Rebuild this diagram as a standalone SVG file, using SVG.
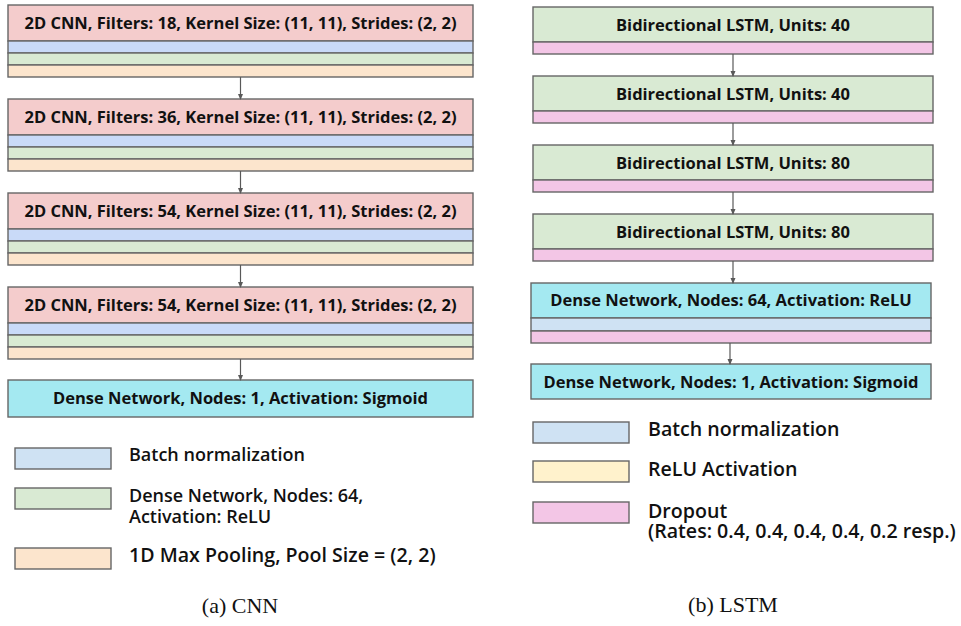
<svg xmlns="http://www.w3.org/2000/svg" width="961" height="626" viewBox="0 0 961 626">
<defs>
<style>
.box{stroke:#666;stroke-width:1.4}
.red{fill:#f4cccc}.blue{fill:#c9daf8}.lblue{fill:#cfe2f3}.green{fill:#d9ead3}.orange{fill:#fce5cd}.cyan{fill:#a4e9f1}.pink{fill:#f3c6e6}.yellow{fill:#fff2cc}
.t{font-family:"Open Sans","Noto Sans",sans-serif;font-weight:700;font-size:16.5px;fill:#111;text-anchor:middle}
.lg{font-family:"Open Sans","Noto Sans",sans-serif;font-weight:600;font-size:18px;fill:#111}
.lg2{font-family:"Open Sans","Noto Sans",sans-serif;font-weight:600;font-size:19.6px;fill:#111}
.cap{font-family:"Liberation Serif",serif;font-size:22px;fill:#111;text-anchor:middle}
.conn{stroke:#595959;stroke-width:1.2;fill:none;marker-end:url(#ah)}
</style>
<marker id="ah" viewBox="0 0 6 6" refX="5" refY="3" markerWidth="6" markerHeight="6" markerUnits="userSpaceOnUse" orient="auto">
<path d="M0,0.5 L6,3 L0,5.5 z" fill="#595959"/>
</marker>
</defs>
<rect width="961" height="626" fill="#fff"/>

<g id="cnn1">
<rect class="box red" x="8" y="5" width="465" height="36"/>
<rect class="box blue" x="8" y="41" width="465" height="12"/>
<rect class="box green" x="8" y="53" width="465" height="12"/>
<rect class="box orange" x="8" y="65" width="465" height="12"/>
<text class="t" x="240.5" y="29">2D CNN, Filters: 18, Kernel Size: (11, 11), Strides: (2, 2)</text>
</g>
<g id="cnn2">
<rect class="box red" x="8" y="99" width="465" height="36"/>
<rect class="box blue" x="8" y="135" width="465" height="12"/>
<rect class="box green" x="8" y="147" width="465" height="12"/>
<rect class="box orange" x="8" y="159" width="465" height="12"/>
<text class="t" x="240.5" y="123">2D CNN, Filters: 36, Kernel Size: (11, 11), Strides: (2, 2)</text>
</g>
<g id="cnn3">
<rect class="box red" x="8" y="193" width="465" height="36"/>
<rect class="box blue" x="8" y="229" width="465" height="12"/>
<rect class="box green" x="8" y="241" width="465" height="12"/>
<rect class="box orange" x="8" y="253" width="465" height="12"/>
<text class="t" x="240.5" y="217">2D CNN, Filters: 54, Kernel Size: (11, 11), Strides: (2, 2)</text>
</g>
<g id="cnn4">
<rect class="box red" x="8" y="287" width="465" height="36"/>
<rect class="box blue" x="8" y="323" width="465" height="12"/>
<rect class="box green" x="8" y="335" width="465" height="12"/>
<rect class="box orange" x="8" y="347" width="465" height="12"/>
<text class="t" x="240.5" y="311">2D CNN, Filters: 54, Kernel Size: (11, 11), Strides: (2, 2)</text>
</g>
<g id="cnn_dense">
<rect class="box cyan" x="8" y="380" width="465" height="37"/>
<text class="t" x="240.5" y="404">Dense Network, Nodes: 1, Activation: Sigmoid</text>
</g>

<g id="lstm1">
<rect class="box green" x="533" y="7" width="400" height="35"/>
<rect class="box pink" x="533" y="42" width="400" height="12"/>
<text class="t" x="733" y="31">Bidirectional LSTM, Units: 40</text>
</g>
<g id="lstm2">
<rect class="box green" x="533" y="76" width="400" height="35"/>
<rect class="box pink" x="533" y="111" width="400" height="12"/>
<text class="t" x="733" y="100">Bidirectional LSTM, Units: 40</text>
</g>
<g id="lstm3">
<rect class="box green" x="533" y="145" width="400" height="35"/>
<rect class="box pink" x="533" y="180" width="400" height="12"/>
<text class="t" x="733" y="169">Bidirectional LSTM, Units: 80</text>
</g>
<g id="lstm4">
<rect class="box green" x="533" y="214" width="400" height="35"/>
<rect class="box pink" x="533" y="249" width="400" height="12"/>
<text class="t" x="733" y="238">Bidirectional LSTM, Units: 80</text>
</g>
<g id="lstm_dense64">
<rect class="box cyan" x="531" y="283" width="400" height="35"/>
<rect class="box lblue" x="531" y="318" width="400" height="13"/>
<rect class="box pink" x="531" y="331" width="400" height="12"/>
<text class="t" x="731" y="306">Dense Network, Nodes: 64, Activation: ReLU</text>
</g>
<g id="lstm_dense1">
<rect class="box cyan" x="531" y="364" width="400" height="35"/>
<text class="t" x="731" y="388">Dense Network, Nodes: 1, Activation: Sigmoid</text>
</g>

<g id="connectors">
<line class="conn" x1="240.5" y1="77" x2="240.5" y2="99"/>
<line class="conn" x1="240.5" y1="171" x2="240.5" y2="193"/>
<line class="conn" x1="240.5" y1="265" x2="240.5" y2="287"/>
<line class="conn" x1="240.5" y1="359" x2="240.5" y2="380"/>
<line class="conn" x1="733" y1="54" x2="733" y2="76"/>
<line class="conn" x1="733" y1="123" x2="733" y2="145"/>
<line class="conn" x1="733" y1="192" x2="733" y2="214"/>
<line class="conn" x1="733" y1="261" x2="733" y2="283"/>
<line class="conn" x1="730" y1="343" x2="730" y2="364"/>
</g>

<g id="legend_cnn">
<rect class="box lblue" x="15" y="448" width="96" height="21"/>
<text class="lg" x="129" y="461">Batch normalization</text>
<rect class="box green" x="15" y="488" width="96" height="21"/>
<text class="lg" x="129" y="502">Dense Network, Nodes: 64,</text>
<text class="lg" x="129" y="523">Activation: ReLU</text>
<rect class="box orange" x="15" y="548" width="96" height="21"/>
<text class="lg2" x="129" y="562">1D Max Pooling, Pool Size = (2, 2)</text>
</g>
<g id="legend_lstm">
<rect class="box lblue" x="533" y="422" width="96" height="21"/>
<text class="lg2" x="648" y="436">Batch normalization</text>
<rect class="box yellow" x="533" y="461" width="96" height="21"/>
<text class="lg2" x="648" y="476">ReLU Activation</text>
<rect class="box pink" x="533" y="502" width="96" height="21"/>
<text class="lg2" x="648" y="518">Dropout</text>
<text class="lg2" x="648" y="538">(Rates: 0.4, 0.4, 0.4, 0.4, 0.2 resp.)</text>
</g>

<text class="cap" x="240" y="613">(a) CNN</text>
<text class="cap" x="733" y="612">(b) LSTM</text>
</svg>
